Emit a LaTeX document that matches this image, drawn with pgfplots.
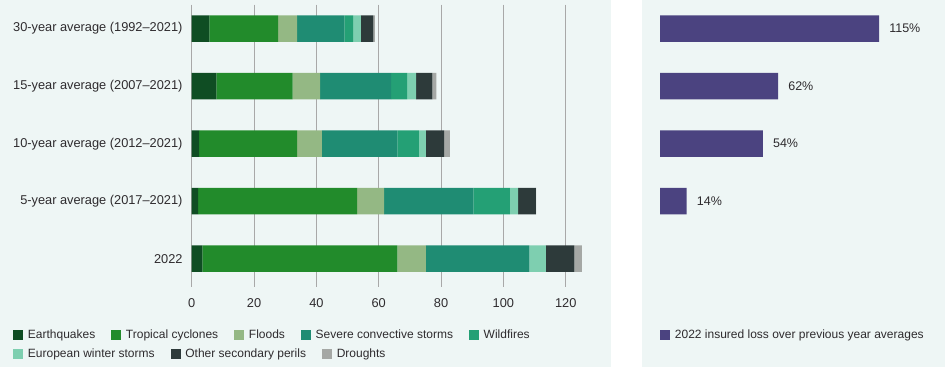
\documentclass[border=0pt]{standalone}
\usepackage{pgfplots}
\pgfplotsset{compat=1.18}
\usepackage{fontspec}
\setmainfont{Liberation Sans}
\definecolor{bg}{HTML}{EEF6F5}
\definecolor{txt}{HTML}{2E2B2E}
\definecolor{cEQ}{HTML}{0F4D23}
\definecolor{cTC}{HTML}{228B2B}
\definecolor{cFL}{HTML}{94B884}
\definecolor{cSCS}{HTML}{1F8C73}
\definecolor{cWF}{HTML}{24A075}
\definecolor{cEWS}{HTML}{7ECFB0}
\definecolor{cOSP}{HTML}{2D3A3A}
\definecolor{cDR}{HTML}{A5A8A5}
\definecolor{cPU}{HTML}{4B4380}
\definecolor{gridc}{HTML}{A8A8A8}
\pgfplotsset{
  panel/.style={
    scale only axis, height=282bp,
    ymin=-0.417, ymax=4.487, y dir=reverse,
    /pgf/number format/assume math mode=true,
  },
  sq/.style={
    legend image code/.code={\fill[##1,draw=none] (0bp,-5bp) rectangle (10bp,5bp);},
  },
  leg/.style={
    legend style={draw=none, fill=none, inner sep=0pt, column sep=0pt,
      font=\fontsize{12bp}{14bp}\selectfont, text=txt,
      nodes={inner xsep=0pt, inner ysep=0pt},
      /tikz/every odd column/.append style={column sep=4.7bp},
      /tikz/every even column/.append style={column sep=16bp},
      anchor=west},
  },
}
\begin{document}
\begin{tikzpicture}[x=1bp,y=1bp]
\path[use as bounding box] (0,0) rectangle (945,367);
\fill[bg] (0,0) rectangle (611,367);
\fill[bg] (642,0) rectangle (945,367);
% left panel
\begin{axis}[panel, leg,
  at={(191.7bp,80.3bp)}, anchor=south west,
  width=405.2bp,
  xbar stacked, bar width=26.5bp,
  xmin=0, xmax=130,
  ytick={0,1,2,3,4},
  yticklabels={30-year average (1992--2021), 15-year average (2007--2021), 10-year average (2012--2021), 5-year average (2017--2021), 2022},
  xtick={0,20,...,120},
  xmajorgrids, grid style={gridc, line width=1bp},
  axis line style={draw=none}, major tick length=0pt,
  tick label style={font=\fontsize{12.8bp}{15bp}\selectfont, text=txt, inner sep=0pt},
  yticklabel style={xshift=-9bp},
  xticklabel style={yshift=-12bp},
  legend columns=5,
  legend style={at={(-0.4410,-0.1702)}},
  sq,
]
\addplot[fill=cEQ, draw=none] coordinates {(5.7,0) (7.9,1) (2.4,2) (2.1,3) (3.4,4)};
\addlegendentry{Earthquakes}
\addplot[fill=cTC, draw=none] coordinates {(22.0,0) (24.5,1) (31.4,2) (51.0,3) (62.6,4)};
\addlegendentry{Tropical cyclones}
\addplot[fill=cFL, draw=none] coordinates {(6.1,0) (8.8,1) (8.0,2) (8.6,3) (9.1,4)};
\addlegendentry{Floods}
\addplot[fill=cSCS, draw=none] coordinates {(15.2,0) (22.8,1) (24.2,2) (28.7,3) (33.2,4)};
\addlegendentry{Severe convective storms}
\addplot[fill=cWF, draw=none] coordinates {(2.8,0) (5.1,1) (6.9,2) (11.7,3) (0,4)};
\addlegendentry{Wildfires}
\addplot[fill=cEWS, draw=none] coordinates {(2.5,0) (2.9,1) (2.2,2) (2.6,3) (5.3,4)};
\addplot[fill=cOSP, draw=none] coordinates {(4.0,0) (5.2,1) (5.9,2) (5.7,3) (9.2,4)};
\addplot[fill=cDR, draw=none] coordinates {(0.5,0) (1.3,1) (1.8,2) (0.1,3) (2.4,4)};
\end{axis}
% second legend row
\begin{axis}[panel, leg,
  at={(191.7bp,80.3bp)}, anchor=south west,
  width=405.2bp, xmin=0, xmax=130,
  hide axis,
  legend columns=3,
  legend style={at={(-0.4410,-0.2397)}},
  sq,
]
\addlegendimage{fill=cEWS, draw=none}
\addlegendentry{European winter storms}
\addlegendimage{fill=cOSP, draw=none}
\addlegendentry{Other secondary perils}
\addlegendimage{fill=cDR, draw=none}
\addlegendentry{Droughts}
\end{axis}
% right panel
\begin{axis}[panel, leg,
  at={(660bp,80.3bp)}, anchor=south west,
  width=285.75bp,
  xbar, bar width=26.5bp,
  xmin=0, xmax=150,
  hide axis, clip=false,
  point meta=x,
  nodes near coords={\pgfmathprintnumber{\pgfplotspointmeta}\%},
  nodes near coords style={anchor=west, inner sep=0pt, xshift=10bp,
    font=\fontsize{12.5bp}{15bp}\selectfont, text=txt},
  legend style={at={(0,-0.1713)}},
  sq,
]
\addplot[fill=cPU, draw=none, bar shift=0pt] coordinates {(115,0) (62,1) (54,2) (14,3)};
\addlegendentry{2022 insured loss over previous year averages}
\end{axis}
\end{tikzpicture}
\end{document}
